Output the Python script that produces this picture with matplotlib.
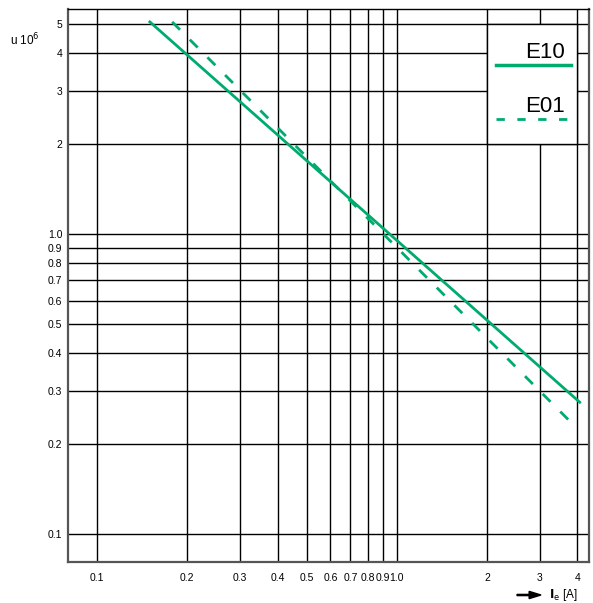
import numpy as np
import matplotlib
matplotlib.use('Agg')
import matplotlib.pyplot as plt
from matplotlib.patches import Rectangle, FancyArrow

# kennlinien (endpoints)
e10_x = [0.150, 4.07]
e10_y = [5.09, 0.275]
e01_x = [0.178, 3.95]
e01_y = [5.09, 0.227]

x_ticks = [0.1, 0.2, 0.3, 0.4, 0.5, 0.6, 0.7, 0.8, 0.9, 1.0, 2, 3, 4]
x_labels = ['0.1', '0.2', '0.3', '0.4', '0.5', '0.6', '0.7', '0.8', '0.9', '1.0', '2', '3', '4']
y_ticks = [0.1, 0.2, 0.3, 0.4, 0.5, 0.6, 0.7, 0.8, 0.9, 1.0, 2, 3, 4, 5]
y_labels = ['0.1', '0.2', '0.3', '0.4', '0.5', '0.6', '0.7', '0.8', '0.9', '1.0', '2', '3', '4', '5']

green = '#00ab6e'
plt.rcParams['font.family'] = ['Liberation Sans', 'DejaVu Sans']

fig = plt.figure(figsize=(5.93, 6.03), dpi=100)
ax = fig.add_axes([68/593, 1 - 562/603, 521/593, 553/603])
ax.set_xscale('log')
ax.set_yscale('log')
ax.set_xlim(0.080, 4.37)
ax.set_ylim(0.0807, 5.62)

ax.xaxis.set_minor_locator(matplotlib.ticker.NullLocator())
ax.yaxis.set_minor_locator(matplotlib.ticker.NullLocator())
ax.set_xticks(x_ticks)
ax.set_xticklabels(x_labels)
ax.set_yticks(y_ticks)
ax.set_yticklabels(y_labels)
ax.tick_params(length=0, labelsize=7.5, pad=8)
ax.tick_params(axis='y', pad=4)

for v in x_ticks:
    ax.axvline(v, color='black', lw=1, zorder=1)
for v in y_ticks:
    ax.axhline(v, color='black', lw=1, zorder=1)

for s in ['left', 'bottom', 'right']:
    ax.spines[s].set_color('#555555')
    ax.spines[s].set_linewidth(1.6)
ax.spines['top'].set_linewidth(1)

ax.plot(e10_x, e10_y, color=green, lw=2, zorder=3)
ax.plot(e01_x, e01_y, color=green, lw=2, ls=(0, (4, 5)), zorder=3)

# legend box covering the grid cell
ax.add_patch(Rectangle((2, 2), 2, 3, facecolor='white', edgecolor='black', lw=1, zorder=4))
ax.plot([0.8215, 0.9655], [0.8987, 0.8987], transform=ax.transAxes, color=green, lw=2.5, zorder=5)
ax.text(0.915, 0.922, 'E10', transform=ax.transAxes, fontsize=16, ha='center', va='center', zorder=5)
ax.plot([0.8215, 0.9655], [0.801, 0.801], transform=ax.transAxes, color=green, lw=2, ls=(0, (3, 4.5)), zorder=5)
ax.text(0.915, 0.823, 'E01', transform=ax.transAxes, fontsize=16, ha='center', va='center', zorder=5)

fig.text(10/593, 1 - 40/603, r'u 10$^6$', fontsize=8.5, va='center')
fig.add_artist(FancyArrow(517/593, 1 - 595/603, 24/593, 0, width=0.002,
                          head_width=0.012, head_length=0.02,
                          length_includes_head=True, color='black',
                          transform=fig.transFigure))
fig.text(549/593, 1 - 595/603, r'$\mathbf{I}_\mathrm{e}$ [A]', fontsize=8.5, va='center')

fig.savefig('out.png', dpi=100)
